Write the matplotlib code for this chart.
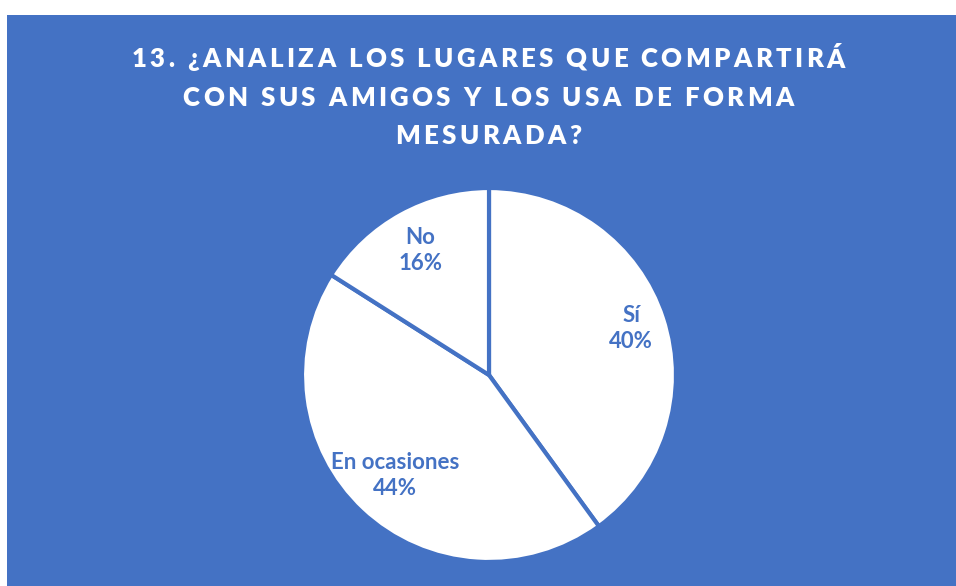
import matplotlib
matplotlib.use("Agg")
import matplotlib.pyplot as plt
from matplotlib.patches import Rectangle
from matplotlib.font_manager import FontProperties
import numpy as np

categories = ["Sí", "En ocasiones", "No"]
values = [40, 44, 16]
title_lines = ["13. ¿ANALIZA LOS LUGARES QUE COMPARTIRÁ",
               "CON SUS AMIGOS Y LOS USA DE FORMA",
               "MESURADA?"]

W, H = 956, 586
BLUE = "#4472C4"
fig = plt.figure(figsize=(W / 100, H / 100), dpi=100)
fig.patch.set_facecolor("white")
fig.patches.append(Rectangle((7 / W, 0), 1 - 7 / W, (H - 15) / H,
                             transform=fig.transFigure, facecolor=BLUE,
                             edgecolor="none", zorder=-5))

# title with letter spacing
renderer = fig.canvas.get_renderer()
tprop = FontProperties(family="Lato", weight="heavy", size=18.5)
spacing = 3.4  # px between characters
ys = [57, 96, 134]
for line, y in zip(title_lines, ys):
    widths = [renderer.get_text_width_height_descent(ch, tprop, ismath=False)[0]
              for ch in line]
    total = sum(widths) + spacing * (len(line) - 1)
    x = 488 - total / 2
    for ch, w in zip(line, widths):
        fig.text(x / W, 1 - y / H, ch, ha="left", va="center_baseline",
                 color="white", fontproperties=tprop)
        x += w + spacing

# pie
cx, cy, r = 489, 375, 187
ax = fig.add_axes([(cx - r) / W, 1 - (cy + r) / H, 2 * r / W, 2 * r / H])
ax.set_zorder(2)
wedges, _ = ax.pie(values, startangle=90, counterclock=False,
                   colors=["white"] * len(values),
                   wedgeprops=dict(edgecolor=BLUE, linewidth=3))
ax.set_xlim(-1, 1)
ax.set_ylim(-1, 1)
ax.set_aspect("equal")
ax.axis("off")
label_dist = [0.80, 0.735, 0.76]
for w, c, v, d in zip(wedges, categories, values, label_dist):
    ang = np.deg2rad((w.theta1 + w.theta2) / 2)
    ax.text(d * np.cos(ang), d * np.sin(ang), f"{c}\n{v}%", ha="center",
            va="center", color=BLUE, fontsize=16, family="Lato",
            fontweight="bold", linespacing=1.3)

fig.savefig("out.png", dpi=100)
